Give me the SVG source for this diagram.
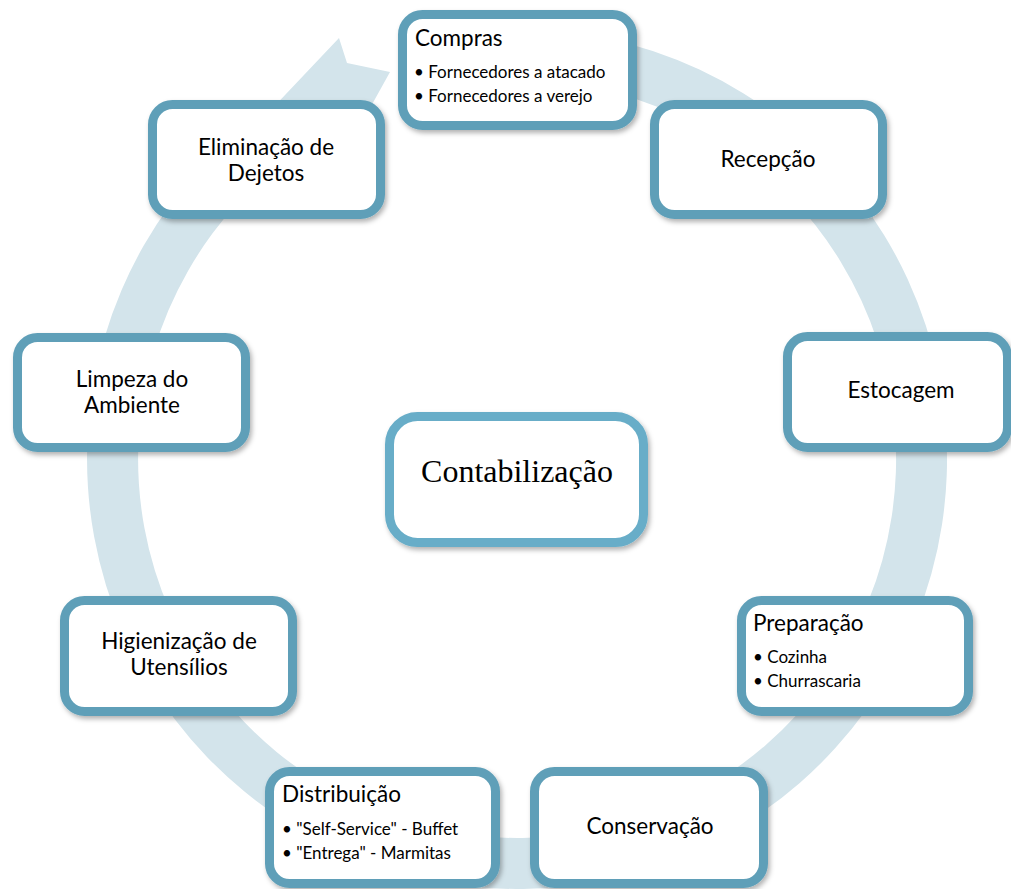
<svg xmlns="http://www.w3.org/2000/svg" width="1011" height="889" viewBox="0 0 1011 889">
  <defs>
    <filter id="shadow" x="-10%" y="-10%" width="125%" height="130%">
      <feDropShadow dx="2" dy="3" stdDeviation="2.5" flood-color="#000" flood-opacity="0.3"/>
    </filter>
    <style>
      .box { fill: #ffffff; stroke: #5f9fb8; stroke-width: 9; filter: url(#shadow); }
      .center { fill: #ffffff; stroke: #67adc8; stroke-width: 9; filter: url(#shadow); }
      .t { font-family: "Lato", "Open Sans", sans-serif; font-size: 22.5px; fill: #000; }
      .c { text-anchor: middle; }
      .b { font-family: "Lato", "Open Sans", sans-serif; font-size: 17px; fill: #000; }
      .serif { font-family: "Liberation Serif", "Times New Roman", serif; font-size: 32px; fill: #000; text-anchor: middle; }
      .ring { fill: #d3e4eb; }
    </style>
  </defs>
  <rect width="1011" height="889" fill="#ffffff"/>

  <!-- circular arrow behind the steps -->
  <g id="connectors">
    <path class="ring" d="M 554.5 30.6 A 430 430 0 1 1 280.3 100 L 339 38 L 347 63 L 390 72 L 368.1 111.6 L 380.1 134.8 L 308.4 142.6 A 379 379 0 1 0 550 81.4 Z"/>
  </g>

  <g id="compras">
    <rect class="box" x="402.5" y="14.5" width="230" height="111" rx="20"/>
    <text class="t" x="415" y="46">Compras</text>
    <text class="b" x="414" y="78">• Fornecedores a atacado</text>
    <text class="b" x="414" y="102">• Fornecedores a verejo</text>
  </g>

  <g id="recepcao">
    <rect class="box" x="654.5" y="104.5" width="228" height="110" rx="20"/>
    <text class="t c" x="768" y="167">Recepção</text>
  </g>

  <g id="estocagem">
    <rect class="box" x="787.5" y="336.5" width="220" height="111" rx="20"/>
    <text class="t c" x="901" y="398">Estocagem</text>
  </g>

  <g id="preparacao">
    <rect class="box" x="741.5" y="600.5" width="227" height="111" rx="20"/>
    <text class="t" x="753" y="631">Preparação</text>
    <text class="b" x="753" y="663">• Cozinha</text>
    <text class="b" x="753" y="687">• Churrascaria</text>
  </g>

  <g id="conservacao">
    <rect class="box" x="534.5" y="771.5" width="229" height="112" rx="20"/>
    <text class="t c" x="650" y="834">Conservação</text>
  </g>

  <g id="distribuicao">
    <rect class="box" x="269.5" y="771.5" width="226" height="112" rx="20"/>
    <text class="t" x="282" y="802">Distribuição</text>
    <text class="b" x="282" y="835">• "Self-Service" - Buffet</text>
    <text class="b" x="282" y="859">• "Entrega" - Marmitas</text>
  </g>

  <g id="higienizacao">
    <rect class="box" x="64.5" y="600.5" width="228" height="111" rx="20"/>
    <text class="t c" x="179" y="649">Higienização de</text>
    <text class="t c" x="179" y="675">Utensílios</text>
  </g>

  <g id="limpeza">
    <rect class="box" x="17.5" y="337.5" width="228" height="110" rx="20"/>
    <text class="t c" x="132" y="387">Limpeza do</text>
    <text class="t c" x="132" y="413">Ambiente</text>
  </g>

  <g id="eliminacao">
    <rect class="box" x="152.5" y="104.5" width="228" height="110" rx="20"/>
    <text class="t c" x="266" y="155">Eliminação de</text>
    <text class="t c" x="266" y="181">Dejetos</text>
  </g>

  <g id="contabilizacao">
    <rect class="center" x="389.5" y="416.5" width="254" height="126" rx="28"/>
    <text class="serif" x="517" y="482">Contabilização</text>
  </g>
</svg>
